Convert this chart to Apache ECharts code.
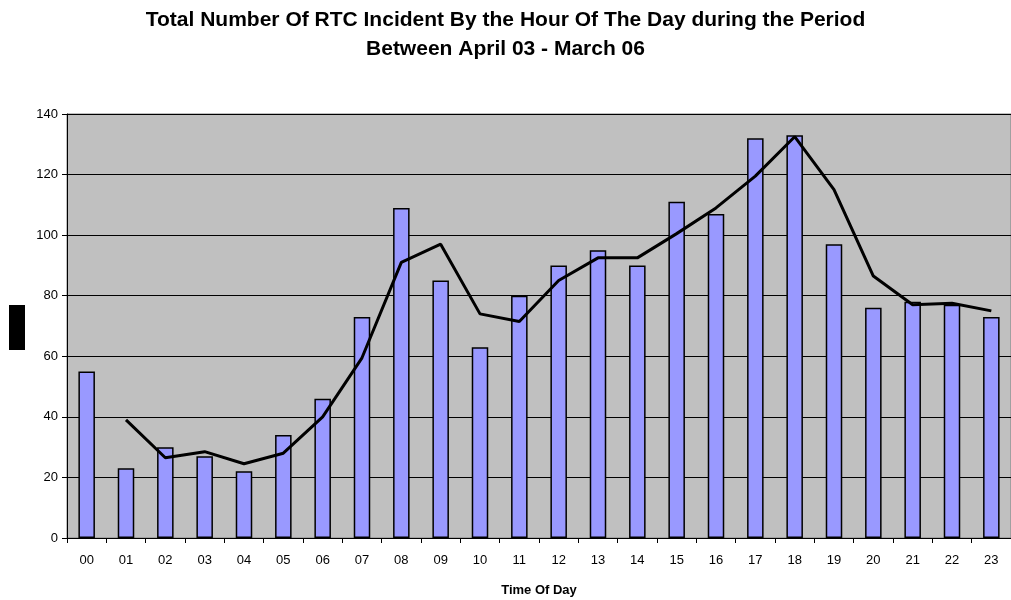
<!DOCTYPE html>
<html>
<head>
<meta charset="utf-8">
<title>RTC Incidents by Hour</title>
<script src="https://cdn.jsdelivr.net/npm/echarts@6/dist/echarts.min.js"></script>
<style>
  html, body { margin: 0; padding: 0; background: #ffffff; }
  #chart { width: 1011px; height: 600px; }
</style>
</head>
<body>
<div id="chart"></div>
<script>
var hours = ['00', '01', '02', '03', '04', '05', '06', '07', '08', '09', '10', '11',
  '12', '13', '14', '15', '16', '17', '18', '19', '20', '21', '22', '23'];
var incidents = [55, 23, 30, 27, 22, 34, 46, 73, 109, 85, 63, 80,
  90, 95, 90, 111, 107, 132, 133, 97, 76, 78, 77, 73];
// 2 period moving average as drawn on the picture (no value at 00)
var trend = ['-', 39, 26.5, 28.5, 24.5, 28, 40, 59.5, 91, 97, 74, 71.5,
  85, 92.5, 92.5, 100.5, 109, 119.5, 132.5, 115, 86.5, 77, 77.5, 75];
var yTicks = [0, 20, 40, 60, 80, 100, 120, 140];

var myChart = echarts.init(document.getElementById('chart'));
var option = {
  animation: false,
  textStyle: { fontFamily: 'Liberation Sans, Arial, sans-serif' },
  title: {
    text: 'Total Number Of RTC Incident By the Hour Of The Day during the Period\nBetween April 03 - March 06',
    left: 'center',
    top: 1,
    textStyle: {
      fontSize: 21,
      fontWeight: 'bold',
      color: '#000',
      lineHeight: 29,
      fontFamily: 'Liberation Sans, Arial, sans-serif'
    }
  },
  grid: {
    left: 67,
    right: 0,
    top: 114,
    bottom: 62,
    outerBoundsMode: 'none',
    show: true,
    backgroundColor: '#c0c0c0',
    borderColor: '#808080',
    borderWidth: 1
  },
  graphic: [
    { type: 'rect', left: 9, top: 305, shape: { width: 16, height: 45 }, style: { fill: '#000' } }
  ],
  xAxis: {
    type: 'category',
    data: hours,
    name: 'Time Of Day',
    nameLocation: 'middle',
    nameGap: 46,
    nameTextStyle: { fontSize: 13, fontWeight: 'bold', color: '#000' },
    axisLine: { lineStyle: { color: '#000', width: 1 } },
    axisTick: { show: true, length: 5, alignWithLabel: false, lineStyle: { color: '#000' } },
    axisLabel: { color: '#000', fontSize: 13, margin: 16 }
  },
  yAxis: {
    type: 'value',
    min: yTicks[0],
    max: yTicks[yTicks.length - 1],
    interval: 20,
    axisLine: { show: true, lineStyle: { color: '#000', width: 1 } },
    axisTick: { show: true, length: 5, lineStyle: { color: '#000' } },
    axisLabel: { color: '#000', fontSize: 13, margin: 9 },
    splitLine: { lineStyle: { color: '#000', width: 1 } }
  },
  series: [
    {
      name: 'Incidents',
      type: 'bar',
      data: incidents,
      barWidth: '42%',
      itemStyle: { color: '#9999ff', borderColor: '#000', borderWidth: 1.5 }
    },
    {
      name: 'Trend',
      type: 'line',
      data: trend,
      showSymbol: false,
      symbol: 'none',
      lineStyle: { color: '#000', width: 3 },
      z: 5
    }
  ]
};
myChart.setOption(option, true);
window.onresize = function () { myChart.resize(); };
</script>
</body>
</html>
